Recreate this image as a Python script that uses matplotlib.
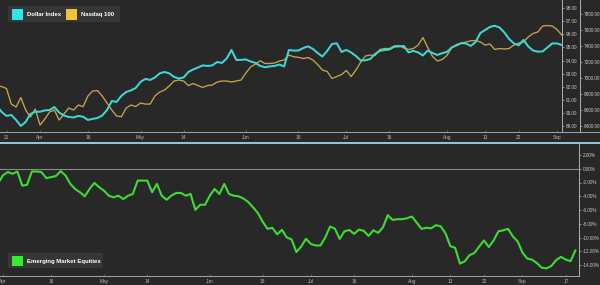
import matplotlib
matplotlib.use("Agg")
import matplotlib.pyplot as plt
import pandas as pd
import numpy as np
from matplotlib.patches import Rectangle
from matplotlib.lines import Line2D
from matplotlib.ticker import FuncFormatter

plt.rcParams['font.family'] = ['Liberation Sans', 'DejaVu Sans']

# ---------------- data ----------------
holidays = ['2018-03-30', '2018-05-28', '2018-07-04', '2018-09-03']
calendar = pd.bdate_range('2018-03-19', '2018-09-21', freq='C', holidays=holidays)
pos = {d.strftime('%Y-%m-%d'): i for i, d in enumerate(calendar)}

top_start = '2018-03-19'
dollar_index = [
    90.53, 90.07, 89.77, 89.84, 89.46, 89.00, 89.31, 89.92, 90.09,
    90.09, 90.19, 90.22, 90.45, 90.03, 89.80, 89.69, 89.65, 89.77, 89.71,
    89.46, 89.54, 89.61, 89.80, 90.22, 90.91, 90.84, 91.30, 91.60, 91.72,
    91.91, 92.37, 92.60, 92.52, 92.71, 93.02, 93.13, 93.02, 92.75, 92.63,
    92.71, 93.13, 93.32, 93.47, 93.63, 93.59, 93.63, 93.89, 93.82, 94.16,
    94.81, 94.05, 94.05, 94.09, 93.93, 93.82, 93.59, 93.49, 93.55, 93.59,
    93.70, 93.55, 94.81, 94.76, 94.77, 94.96, 95.09, 94.89, 94.58, 94.31,
    94.74, 95.27, 95.32, 94.66, 94.81, 94.62, 94.35, 94.01, 94.02, 94.12,
    94.51, 94.74, 94.81, 94.85, 95.06, 95.08, 95.12, 94.62, 94.74, 94.62,
    94.39, 94.77, 94.58, 94.43, 94.56, 94.66, 95.00, 95.16, 95.33, 95.31,
    95.12, 95.42, 96.11, 96.34, 96.57, 96.66, 96.53, 96.15, 95.65, 95.31,
    95.16, 95.58, 95.08, 94.77, 94.68, 94.70, 95.00, 95.31, 95.31, 95.19,
]
nasdaq_100 = [
    6899, 6892, 6867, 6672, 6635, 6754, 6597, 6509, 6610,
    6408, 6484, 6572, 6597, 6471, 6547, 6622, 6597, 6660, 6639,
    6773, 6836, 6842, 6773, 6685, 6597, 6522, 6513, 6622, 6660,
    6641, 6685, 6672, 6672, 6773, 6823, 6848, 6899, 6962, 6974,
    6962, 6905, 6930, 6905, 6880, 6905, 6911, 6949, 6962, 6962,
    6949, 6962, 6974, 7062, 7138, 7175, 7217, 7182, 7182, 7188,
    7213, 7226, 7288, 7267, 7259, 7244, 7257, 7226, 7169, 7100,
    7081, 6993, 7018, 7043, 7094, 7018, 7100, 7200, 7276, 7288,
    7282, 7358, 7370, 7370, 7402, 7408, 7376, 7358, 7370, 7414,
    7508, 7383, 7270, 7213, 7232, 7282, 7376, 7420, 7439, 7452,
    7468, 7471, 7452, 7414, 7427, 7358, 7370, 7364, 7370, 7414,
    7439, 7452, 7515, 7559, 7578, 7653, 7659, 7653, 7609, 7540,
]

em_start = '2018-03-29'
em_equities = [
    -2.11,
    -0.95, -0.48, -0.73, -0.40, -2.45, -2.35, -0.40, -0.40, -0.48, -1.37,
    -1.22, -1.07, -0.34, -0.98, -2.20, -2.94, -3.42, -4.01, -2.94, -2.06,
    -2.69, -3.19, -3.92, -4.16, -3.92, -4.41, -3.92, -3.67, -1.72, -1.72,
    -1.72, -3.42, -2.20, -3.92, -4.51, -3.92, -3.52, -3.52, -3.92, -3.67,
    -5.98, -5.24, -5.24, -3.92, -2.94, -3.67, -2.20, -3.67, -3.92, -4.01,
    -4.33, -4.85, -5.62, -6.46, -7.71, -8.74, -8.59, -9.54, -8.88, -9.99,
    -10.28, -12.11, -11.31, -10.18, -10.94, -11.16, -11.16, -9.99, -8.41, -8.71,
    -10.21, -9.10, -8.91, -9.47, -8.85, -9.03, -9.77, -8.96, -9.32, -8.52,
    -6.75, -7.44, -7.34, -7.34, -7.20, -6.95, -7.83, -8.74, -8.59, -8.66,
    -8.22, -8.37, -9.40, -11.26, -11.50, -13.80, -13.47, -12.56, -12.26, -11.31,
    -10.43, -11.38, -10.43, -9.10, -8.96, -8.74, -9.84, -10.57, -12.19, -13.07,
    -13.22, -13.73, -14.39, -14.49, -14.14, -13.29, -12.82, -13.22, -13.44, -11.89,
]

top_tick_dates = ['2018-03-21', '2018-04-02', '2018-04-16', '2018-05-01', '2018-05-14',
                  '2018-06-01', '2018-06-18', '2018-07-02', '2018-07-16', '2018-08-01',
                  '2018-08-13', '2018-08-22', '2018-09-04']
top_tick_labels = ['21', 'Apr', '16', 'May', '14', 'Jun', '18', 'Jul', '16', 'Aug',
                   '13', '22', 'Sep']
bot_tick_dates = ['2018-04-02', '2018-04-16', '2018-05-01', '2018-05-14', '2018-06-01',
                  '2018-06-18', '2018-07-02', '2018-07-16', '2018-08-01', '2018-08-13',
                  '2018-08-22', '2018-09-04', '2018-09-17']
bot_tick_labels = ['Apr', '16', 'May', '14', 'Jun', '18', 'Jul', '16', 'Aug', '13',
                   '22', 'Sep', '17']

dollar_ticks = [89, 90, 91, 92, 93, 94, 95, 96, 97, 98]
nasdaq_ticks = [6400, 6600, 6800, 7000, 7200, 7400, 7600, 7800]
em_ticks = [2, 0, -2, -4, -6, -8, -10, -12, -14]

# ---------------- style ----------------
BG = '#282828'
CYAN = '#3dd8d2'
GOLD = '#c9a24c'
GREEN = '#3cdc34'
SPINE = '#b4b0b4'
TXT = '#c8c8c8'

W, H = 600, 285
fig = plt.figure(figsize=(6, 2.85), dpi=100, facecolor=BG)


def rect(l, t, r, b):
    return [l / W, 1 - b / H, (r - l) / W, (b - t) / H]


def fx(x):
    return x / W


def fy(y):
    return 1 - y / H


# ---- top panel ----
ax1 = fig.add_axes(rect(0, 0, 562, 132))
ax2 = ax1.twinx()
ax1.set_zorder(ax2.get_zorder() + 1)
ax1.patch.set_visible(False)
ax2.patch.set_visible(False)

s0 = pos[top_start]
xt = np.arange(s0, s0 + len(dollar_index))
ax2.plot(xt, nasdaq_100, color=GOLD, lw=0.95, solid_joinstyle='round')
ax1.plot(xt, dollar_index, color=CYAN, lw=1.45, solid_joinstyle='round')

a2 = pos['2018-04-02']
ax1.set_xlim(a2 - 8.36, a2 + 109.05)
ax1.set_ylim(88.54, 98.63)
ax2.set_ylim(6321, 7980)

ax1.yaxis.tick_right()
ax1.set_yticks(dollar_ticks)
ax1.yaxis.set_major_formatter(FuncFormatter(lambda v, p: f'{v:.2f}'))
ax2.set_yticks(nasdaq_ticks)
ax2.yaxis.set_major_formatter(FuncFormatter(lambda v, p: f'{v:.2f}'))
ax2.spines['right'].set_position(('axes', 580 / 562))

for sp in ['top', 'left']:
    ax1.spines[sp].set_visible(False)
for sp in ['top', 'left', 'bottom']:
    ax2.spines[sp].set_visible(False)
ax1.spines['right'].set_color(SPINE)
ax1.spines['right'].set_linewidth(0.7)
ax1.spines['bottom'].set_color('#aaa2aa')
ax1.spines['bottom'].set_linewidth(0.7)
ax2.spines['right'].set_color(SPINE)
ax2.spines['right'].set_linewidth(0.7)

ax1.set_xticks([pos[d] for d in top_tick_dates])
ax1.set_xticklabels(top_tick_labels)
ax1.tick_params(axis='x', direction='in', length=1.5, width=0.5, colors='#777777',
                labelcolor='#b8b8b8', labelsize=3.4, pad=2)
for a in (ax1, ax2):
    a.tick_params(axis='y', direction='out', length=1.5, width=0.5, colors=SPINE,
                  labelcolor=TXT, labelsize=3.3, pad=1.2)

# ---- bottom panel ----
ax3 = fig.add_axes(rect(0, 144, 579, 276))
ax3.patch.set_visible(False)
e0 = pos[em_start]
xe = np.arange(e0, e0 + len(em_equities))
ax3.axhline(0, color='#8a8a8a', lw=0.8, zorder=1)
ax3.plot(xe, em_equities, color=GREEN, lw=1.5, solid_joinstyle='round', zorder=3)
ax3.set_xlim(a2 - 0.62, a2 + 119.75)
ax3.set_ylim(-15.6, 3.6)
ax3.yaxis.tick_right()
ax3.set_yticks(em_ticks)
ax3.yaxis.set_major_formatter(FuncFormatter(lambda v, p: f'{v:.2f}%'))
for sp in ['top', 'left']:
    ax3.spines[sp].set_visible(False)
ax3.spines['right'].set_color(SPINE)
ax3.spines['right'].set_linewidth(0.7)
ax3.spines['bottom'].set_color('#aaa2aa')
ax3.spines['bottom'].set_linewidth(0.7)
ax3.set_xticks([pos[d] for d in bot_tick_dates])
ax3.set_xticklabels(bot_tick_labels)
ax3.tick_params(axis='x', direction='in', length=1.5, width=0.5, colors='#777777',
                labelcolor='#b8b8b8', labelsize=3.4, pad=2.5)
ax3.tick_params(axis='y', direction='out', length=1.5, width=0.5, colors=SPINE,
                labelcolor=TXT, labelsize=3.3, pad=1.2)

# ---- separators ----
fig.add_artist(Line2D([fx(562), fx(600)], [fy(132), fy(132)], color='#aaa2aa', lw=0.7))
fig.add_artist(Line2D([0, 1], [fy(143), fy(143)], color='#9dd3ea', lw=1.3))

# ---- legends ----
def legend_box(l, t, r, b):
    fig.add_artist(Rectangle((fx(l), fy(b)), fx(r - l), (b - t) / H,
                             facecolor='#363636', edgecolor='none', transform=fig.transFigure))


def legend_item(l, t, color, label):
    fig.add_artist(Rectangle((fx(l), fy(t + 10.5)), fx(11), 10.5 / H,
                             facecolor=color, edgecolor='none', transform=fig.transFigure))
    fig.text(fx(l + 15), fy(t + 5.5), label, color='white', fontsize=4.3,
             fontweight='bold', ha='left', va='center')


legend_box(8, 5.5, 120, 22)
legend_item(11.7, 9, '#2ee6ee', 'Dollar Index')
legend_item(66, 9, '#f2c33a', 'Nasdaq 100')

legend_box(8.3, 252.5, 103.3, 268)
legend_item(11.7, 255.5, '#33ee2e', 'Emerging Market Equities')

fig.savefig('out.png', dpi=100, facecolor=BG)
